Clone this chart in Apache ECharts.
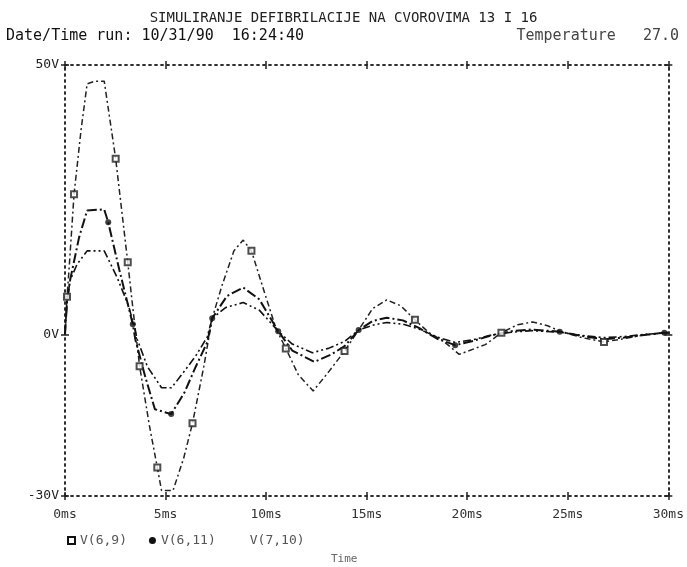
<!DOCTYPE html>
<html>
<head>
<meta charset="utf-8">
<script src="https://cdn.jsdelivr.net/npm/echarts@6/dist/echarts.min.js"></script>
<style>
html,body{margin:0;padding:0;background:#fff;}
#chart{width:687px;height:567px;}
</style>
</head>
<body>
<div id="chart"></div>
<script>
// vremenske tocke (ms) i naponi (V) procitani sa slike
var seriesNames = ['V(6,9)', 'V(6,11)', 'V(7,10)'];
var xTicks = [0, 5, 10, 15, 20, 25, 30];
var yTickLabels = [-30, 0, 50];

var v69 = [
  [0,0],[0.1,7],[0.2,12],[0.45,26],[0.8,38],[1.1,46.5],[1.5,47],[1.95,47],[2.52,32.6],[3.12,13.4],
  [3.4,4],[3.71,-5.9],[4.2,-17],[4.59,-24.7],[4.8,-29],[5.37,-29],[5.9,-23],[6.34,-16.5],[6.9,-6],
  [7.32,3],[7.8,9],[8.4,15.5],[8.86,17.5],[9.27,15.5],[9.9,8],[10.5,1],[10.98,-2.6],[11.6,-7.5],
  [12.34,-10.5],[13.1,-7],[13.9,-3.1],[14.6,0.8],[15.3,4.8],[16.0,6.4],[16.7,5.3],[17.4,2.7],
  [18.1,0.3],[18.8,-1.2],[19.6,-3.7],[20.9,-1.9],[21.7,0.3],[22.5,1.8],[23.25,2.3],[24.0,1.6],
  [24.6,0.6],[25.7,-0.6],[26.8,-1.4],[27.8,-0.8],[28.8,-0.1],[30,0.4]
];
var v611 = [
  [0,0],[0.1,6],[0.25,10],[0.7,18],[1.1,23],[1.95,23.2],[2.15,20.8],[2.7,12],[3.37,1.9],[3.5,-1],
  [4.0,-8],[4.47,-13.9],[5.28,-14.8],[5.94,-10.8],[6.5,-6],[7.07,-1.5],[7.32,3],[8.05,7.1],[8.86,8.7],
  [9.66,6.5],[10.6,0.6],[11.3,-3],[12.4,-5.1],[13.2,-3.8],[13.9,-2.2],[14.6,0.8],[15.3,2.5],[16.0,3.1],
  [16.8,2.6],[17.6,1.2],[18.5,-0.8],[19.4,-2],[20.3,-1.2],[21.2,-0.2],[22.2,0.6],[23.2,0.9],[24.6,0.5],
  [25.7,-0.3],[26.8,-0.9],[27.8,-0.6],[28.8,-0.1],[29.8,0.3],[30,0.3]
];
var v710 = [
  [0,0],[0.1,6],[0.25,10],[0.6,13],[1.1,15.5],[1.95,15.5],[2.6,10.5],[3.17,5.2],[3.4,2],[3.6,-1],
  [4.1,-6],[4.8,-9.9],[5.3,-9.9],[5.9,-7],[6.5,-4],[7.07,-0.5],[7.32,3],[8.0,5],[8.86,5.9],[9.66,4.5],
  [10.6,0.6],[11.3,-1.8],[12.3,-3.4],[13.1,-2.6],[13.9,-1.3],[14.6,0.8],[15.4,1.8],[16.0,2.2],[16.8,1.9],
  [17.6,1],[18.5,-0.5],[19.4,-1.5],[20.3,-1],[21.2,-0.1],[22.2,0.4],[23.2,0.7],[24.6,0.4],[25.7,-0.2],
  [26.8,-0.6],[27.8,-0.4],[28.8,0],[30,0.3]
];
// oznake (kvadratici i tockice) na krivuljama
var v69Marks = [[0.1,7],[0.45,26],[2.52,32.6],[3.12,13.4],[3.71,-5.9],[4.59,-24.7],[6.34,-16.5],
  [9.27,15.5],[10.98,-2.6],[13.9,-3.1],[17.4,2.7],[21.7,0.3],[26.8,-1.4]];
var v611Marks = [[2.15,20.8],[3.37,1.9],[5.28,-14.8],[7.32,3],[10.6,0.6],[14.6,0.8],[19.4,-2],
  [24.6,0.5],[29.8,0.3]];

var chart = echarts.init(document.getElementById('chart'));
var mono = 'DejaVu Sans Mono, Liberation Mono, monospace';
var frame = { show: true, onZero: false, lineStyle: { color: '#222', width: 1.5, type: [2, 4] } };
var tickStyle = { color: '#222', width: 1.5 };

function frameAxis(pos, isX, inside) {
  var a = {
    type: 'value', position: pos, min: isX ? 0 : -30, max: isX ? 30 : 50, interval: isX ? 5 : 10,
    axisLine: frame, splitLine: { show: false }, axisLabel: { show: false },
    axisTick: { show: true, inside: inside, length: 4, lineStyle: tickStyle }
  };
  if (!isX) a.axisTick.customValues = yTickLabels;
  return a;
}

var option = {
  backgroundColor: '#fff',
  animation: false,
  color: ['#111', '#111', '#111'],
  title: [
    { text: 'SIMULIRANJE DEFIBRILACIJE NA CVOROVIMA 13 I 16', left: 'center', top: 6,
      textStyle: { fontFamily: mono, fontSize: 14, fontWeight: 'normal', color: '#222' } },
    { text: 'Date/Time run: 10/31/90  16:24:40', left: 1, top: 24,
      textStyle: { fontFamily: mono, fontSize: 15, fontWeight: 'normal', color: '#111' } },
    { text: 'Temperature   27.0', right: 3, top: 24,
      textStyle: { fontFamily: mono, fontSize: 15, fontWeight: 'normal', color: '#444' } },
    { text: 'Time', left: 326, top: 549,
      textStyle: { fontFamily: mono, fontSize: 11, fontWeight: 'normal', color: '#666' } }
  ],
  legend: {
    left: 62, top: 529, itemWidth: 7, itemHeight: 7, itemGap: 22,
    textStyle: { fontFamily: mono, fontSize: 13, color: '#555' },
    data: [
      { name: seriesNames[0], icon: 'emptyRect' },
      { name: seriesNames[1], icon: 'circle' },
      { name: seriesNames[2], icon: 'circle', itemStyle: { opacity: 0 } }
    ]
  },
  grid: { left: 65, right: 7, top: 65, bottom: 71 },
  xAxis: [
    {
      type: 'value', min: 0, max: 30, interval: 5, position: 'bottom',
      axisLine: frame, splitLine: { show: false },
      axisTick: { show: true, length: 4, lineStyle: tickStyle },
      axisLabel: { customValues: xTicks, margin: 12, fontFamily: mono, fontSize: 13, color: '#333',
        formatter: function (v) { return v + 'ms'; } }
    },
    frameAxis('top', true, false),
    frameAxis('bottom', true, true),
    frameAxis('top', true, true)
  ],
  yAxis: [
    {
      type: 'value', min: -30, max: 50, interval: 10, position: 'left',
      axisLine: frame, splitLine: { show: false },
      axisTick: { show: true, length: 4, customValues: yTickLabels, lineStyle: tickStyle },
      axisLabel: { customValues: yTickLabels, margin: 6, fontFamily: mono, fontSize: 13, color: '#222',
        formatter: function (v) { return v + 'V'; } }
    },
    frameAxis('right', false, false),
    frameAxis('left', false, true),
    frameAxis('right', false, true)
  ],
  series: [
    { name: seriesNames[0], type: 'line', data: v69, showSymbol: false,
      lineStyle: { color: '#222', width: 1.5, type: [6, 3, 2, 3] } },
    { name: seriesNames[1], type: 'line', data: v611, showSymbol: false,
      lineStyle: { color: '#111', width: 2, type: [10, 3, 2, 3] } },
    { name: seriesNames[2], type: 'line', data: v710, showSymbol: false,
      lineStyle: { color: '#111', width: 1.6, type: [8, 3, 2, 3, 2, 3] } },
    { name: seriesNames[0], type: 'scatter', data: v69Marks, symbol: 'emptyRect', symbolSize: 6,
      itemStyle: { color: '#222', borderColor: '#222', borderWidth: 1.5 }, z: 5 },
    { name: seriesNames[1], type: 'scatter', data: v611Marks, symbol: 'circle', symbolSize: 6,
      itemStyle: { color: '#111' }, z: 5 }
  ]
};
chart.setOption(option);
</script>
</body>
</html>
